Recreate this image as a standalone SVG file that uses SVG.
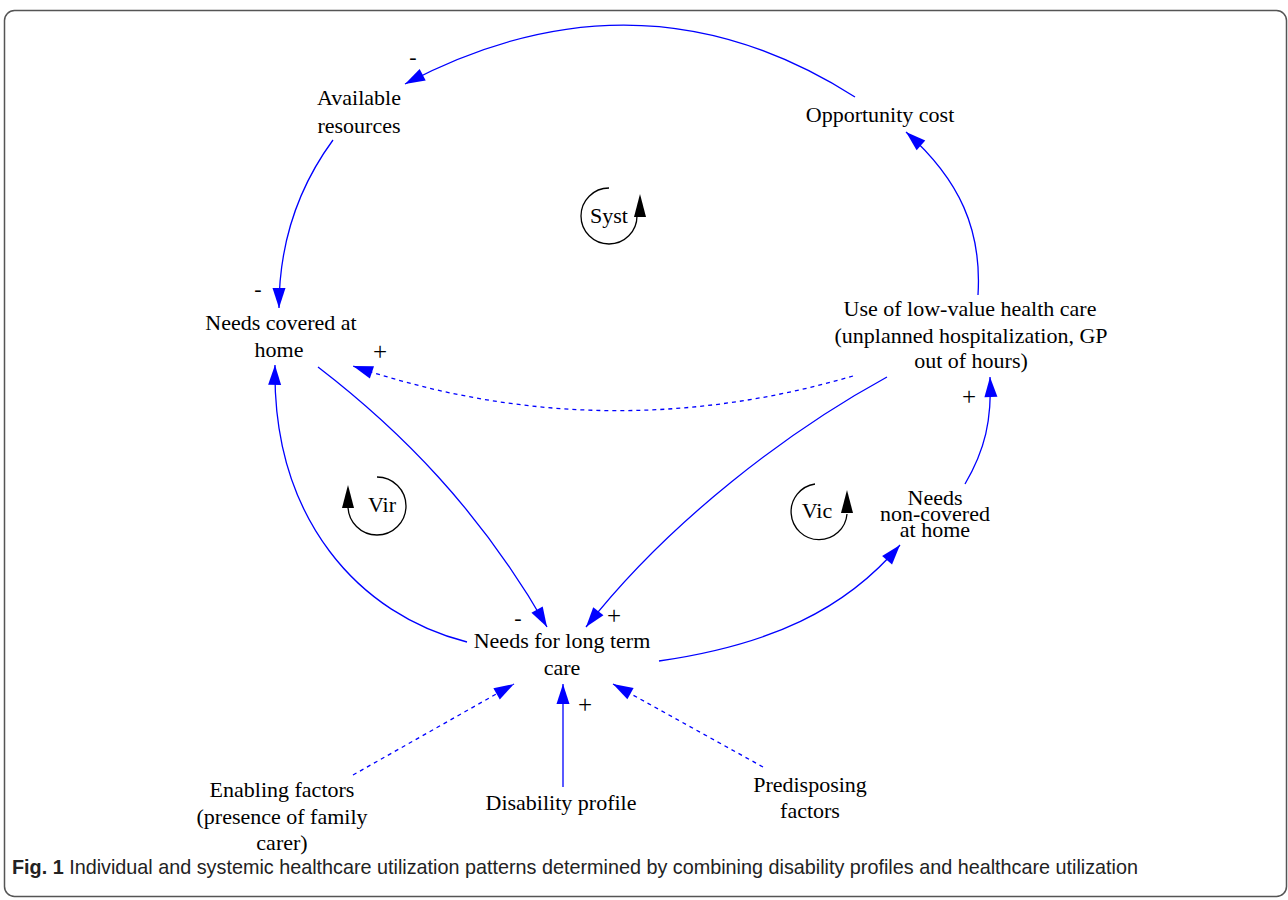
<svg xmlns="http://www.w3.org/2000/svg" width="1288" height="900" viewBox="0 0 1288 900">
<defs>
<style>
.lbl{font-family:"Liberation Serif","Times New Roman",serif;font-size:22px;fill:#000;text-anchor:middle}
.pol{font-family:"Liberation Serif","Times New Roman",serif;font-size:25px;fill:#000;text-anchor:middle}
.neg{font-family:"Liberation Serif","Times New Roman",serif;font-size:22px;fill:#000;text-anchor:middle}
.c{fill:none;stroke:#0000ff;stroke-width:1.3}
.d{stroke-dasharray:4 4}
.loop{fill:none;stroke:#000;stroke-width:1.3}
.cap{font-family:"Liberation Sans",Arial,sans-serif;font-size:21px;fill:#222}
</style>
<marker id="ah" markerUnits="userSpaceOnUse" markerWidth="22" markerHeight="14" viewBox="-21 -7 22 14" refX="0" refY="0" orient="auto">
<path d="M0,0 L-20,-6.5 L-20,6.5 Z" fill="#0000ff"/>
</marker>
</defs>
<rect x="4.5" y="10.5" width="1282" height="886" rx="10" fill="#fff" stroke="#555" stroke-width="1.5"/>

<g id="connectors">
<path class="c" d="M855,97 Q640,-40 405,84" marker-end="url(#ah)"/>
<path class="c" d="M333,140 C300,185 279,240 279,308" marker-end="url(#ah)"/>
<path class="c" d="M978,295 C982,230 960,180 906,132" marker-end="url(#ah)"/>
<path class="c" d="M318,367 C400,430 480,510 547,627" marker-end="url(#ah)"/>
<path class="c" d="M887,377 C790,430 670,520 586,627" marker-end="url(#ah)"/>
<path class="c d" d="M853,376 Q600,450 353,366" marker-end="url(#ah)"/>
<path class="c" d="M467,642 C360,615 272,520 275,365" marker-end="url(#ah)"/>
<path class="c" d="M659,661 C770,645 845,610 900,545" marker-end="url(#ah)"/>
<path class="c" d="M965,484 C985,450 992,420 990,377" marker-end="url(#ah)"/>
<path class="c d" d="M353,775 L514,684" marker-end="url(#ah)"/>
<path class="c" d="M563,787 L563,684" marker-end="url(#ah)"/>
<path class="c d" d="M763,767 L613,684" marker-end="url(#ah)"/>
<text class="neg" x="413" y="64">-</text>
<text class="neg" x="258" y="296">-</text>
<text class="pol" x="380" y="360">+</text>
<text class="neg" x="518" y="625">-</text>
<text class="pol" x="614" y="624">+</text>
<text class="pol" x="969" y="405">+</text>
<text class="pol" x="585" y="713">+</text>
</g>

<g id="available-resources">
<text class="lbl" x="359" y="105">Available</text>
<text class="lbl" x="359" y="133">resources</text>
</g>
<g id="opportunity-cost">
<text class="lbl" x="880" y="122">Opportunity cost</text>
</g>
<g id="needs-covered">
<text class="lbl" x="281" y="330">Needs covered at</text>
<text class="lbl" x="279" y="357">home</text>
</g>
<g id="low-value">
<text class="lbl" x="970" y="316">Use of low-value health care</text>
<text class="lbl" x="971" y="343">(unplanned hospitalization, GP</text>
<text class="lbl" x="971" y="368">out of hours)</text>
</g>
<g id="needs-non-covered">
<text class="lbl" x="935" y="505">Needs</text>
<text class="lbl" x="935" y="521">non-covered</text>
<text class="lbl" x="935" y="537">at home</text>
</g>
<g id="needs-long-term">
<text class="lbl" x="562" y="648">Needs for long term</text>
<text class="lbl" x="562" y="675">care</text>
</g>
<g id="enabling">
<text class="lbl" x="282" y="797">Enabling factors</text>
<text class="lbl" x="282" y="824">(presence of family</text>
<text class="lbl" x="282" y="850">carer)</text>
</g>
<g id="disability">
<text class="lbl" x="561" y="810">Disability profile</text>
</g>
<g id="predisposing">
<text class="lbl" x="810" y="792">Predisposing</text>
<text class="lbl" x="810" y="818">factors</text>
</g>

<g id="loop-syst">
<path class="loop" d="M609,188 A28,28 0 1 0 637,216"/>
<polygon points="640,194 634,217 646,217" fill="#000"/>
<text class="lbl" x="609" y="223">Syst</text>
</g>
<g id="loop-vir">
<path class="loop" d="M377,477 A29,29 0 1 1 348,506"/>
<polygon points="348,485 342,508 354,508" fill="#000"/>
<text class="lbl" x="382" y="512">Vir</text>
</g>
<g id="loop-vic">
<path class="loop" d="M815,484 A28,28 0 1 0 847,514"/>
<polygon points="847,490 841,513 853,513" fill="#000"/>
<text class="lbl" x="817" y="518">Vic</text>
</g>

<text class="cap" x="12" y="874" textLength="1126" lengthAdjust="spacingAndGlyphs"><tspan font-weight="bold">Fig. 1</tspan> Individual and systemic healthcare utilization patterns determined by combining disability profiles and healthcare utilization</text>
</svg>
